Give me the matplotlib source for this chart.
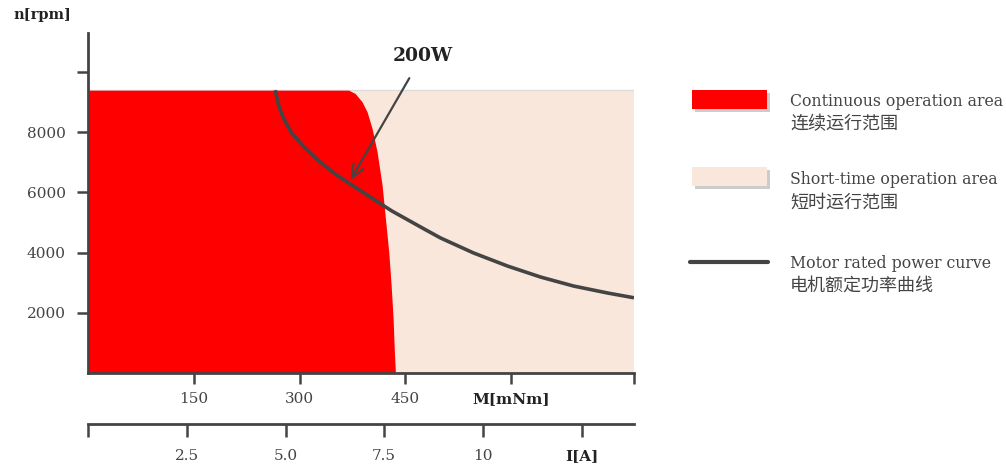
import matplotlib
matplotlib.use('Agg')
import matplotlib.pyplot as plt
from matplotlib.patches import Rectangle
from matplotlib.lines import Line2D
import matplotlib.patheffects as pe

plt.rcParams['font.family'] = ['DejaVu Serif', 'Noto Sans CJK SC']

# данные
torque_ticks = [150, 300, 450, 600, 774]
torque_labels = ['150', '300', '450', 'M[mNm]', '']
speed_ticks = [2000, 4000, 6000, 8000, 10000]
speed_labels = ['2000', '4000', '6000', '8000', '']
current_ticks = [0, 2.5, 5.0, 7.5, 10, 12.5]
current_labels = ['', '2.5', '5.0', '7.5', '10', 'I[A]']

max_speed = 9400
max_torque = 774

# граница зоны длительной работы
cont_torque = [0, 369.5, 378.6, 388.5, 395.6, 402.7, 409.8, 416.9, 421.6, 426.3, 429.7, 432.5, 434.3, 435.8]
cont_speed = [9400, 9400, 9292, 9013, 8681, 8130, 7352, 6246, 5140, 4030, 2924, 1817, 708, 0]

# кривая номинальной мощности 200 Вт
power_torque = [265.4, 270.1, 277.2, 289.1, 305.6, 326.9, 350.6, 371.9, 397.9, 431.1,
                475.5, 499.6, 546.5, 594.7, 641.6, 688.4, 736.7, 774]
power_speed = [9400, 8904, 8462, 7963, 7530, 7050, 6611, 6279, 5880, 5380,
               4800, 4490, 3990, 3555, 3189, 2890, 2658, 2500]

text_col = '#444444'
red = '#ff0000'
peach = '#fae7dc'
dark = '#444444'

fig = plt.figure(figsize=(10.06, 4.71), dpi=100)
ax = fig.add_axes([88 / 1006, (471 - 373) / 471, 546 / 1006, 340 / 471])

# зоны
ax.fill_between([0, max_torque], [max_speed, max_speed], 0, color=peach, lw=0,
                path_effects=[pe.SimplePatchShadow(offset=(1.5, -1.5), shadow_rgbFace='#bbbbbb', alpha=0.6), pe.Normal()])
ax.plot([0, max_torque], [max_speed, max_speed], color='#dddddd', lw=1, zorder=1.5)
ax.fill_between(cont_torque, cont_speed, 0, color=red, lw=0, zorder=2)
ax.plot(power_torque, power_speed, color=dark, lw=2.6, solid_capstyle='butt',
        solid_joinstyle='round', zorder=3)

ax.annotate('200W', xy=(372, 6412), xytext=(474, 10550), ha='center', va='center',
            fontsize=13.5, fontweight='bold', color='#222222',
            arrowprops=dict(arrowstyle='->,head_length=0.7,head_width=0.3', color=dark, lw=1.6,
                            shrinkA=9, shrinkB=0))

ax.set_xlim(0, max_torque)
ax.set_ylim(0, 11300)
for s in ['top', 'right']:
    ax.spines[s].set_visible(False)
for s in ['left', 'bottom']:
    ax.spines[s].set_color(dark)
    ax.spines[s].set_linewidth(2)
    ax.spines[s].set_zorder(4)

ax.set_xticks(torque_ticks)
ax.set_xticklabels(torque_labels)
ax.set_yticks(speed_ticks)
ax.set_yticklabels(speed_labels)
ax.tick_params(axis='x', length=8, width=1.8, color=dark, pad=6, labelsize=11, labelcolor=text_col)
ax.tick_params(axis='y', length=8, width=1.8, color=dark, pad=8, labelsize=11, labelcolor=text_col)
ax.get_xticklabels()[3].set_fontweight('bold')
ax.get_xticklabels()[3].set_color('#222222')

# ось тока
ax2 = fig.add_axes([88 / 1006, (471 - 424) / 471, 546 / 1006, 0.001])
ax2.set_xlim(0, 546 / 39.5)
ax2.set_yticks([])
for s in ['top', 'right', 'left']:
    ax2.spines[s].set_visible(False)
ax2.spines['bottom'].set_color(dark)
ax2.spines['bottom'].set_linewidth(2)
ax2.patch.set_visible(False)
ax2.set_xticks(current_ticks)
ax2.set_xticklabels(current_labels)
ax2.tick_params(axis='x', length=9, width=1.8, color=dark, pad=9, labelsize=11, labelcolor=text_col)
ax2.get_xticklabels()[5].set_fontweight('bold')
ax2.get_xticklabels()[5].set_color('#222222')

fig.text(42 / 1006, 1 - 15 / 471, 'n[rpm]', ha='center', va='center', fontsize=10.5,
         fontweight='bold', color='#222222')

# легенда
def fx(px):
    return px / 1006

def fy(py):
    return 1 - py / 471

for top, col in [(90, red), (167, peach)]:
    fig.patches.append(Rectangle((fx(695), fy(top + 22)), 75 / 1006, 19 / 471,
                                 transform=fig.transFigure, color='#cccccc', lw=0))
    fig.patches.append(Rectangle((fx(692), fy(top + 19)), 75 / 1006, 19 / 471,
                                 transform=fig.transFigure, color=col, lw=0))
fig.lines.append(Line2D([fx(690), fx(768)], [fy(262), fy(262)], transform=fig.transFigure,
                        color=dark, lw=3, solid_capstyle='round'))

legend_items = [
    (101, 'Continuous operation area', '连续运行范围'),
    (180, 'Short-time operation area', '短时运行范围'),
    (263, 'Motor rated power curve', '电机额定功率曲线'),
]
for y, en, zh in legend_items:
    fig.text(fx(790), fy(y), en, ha='left', va='center', fontsize=11.3, color=text_col)
    fig.text(fx(790), fy(y + 23), zh, ha='left', va='center', fontsize=13, color=text_col)

fig.savefig('out.png', dpi=100)
